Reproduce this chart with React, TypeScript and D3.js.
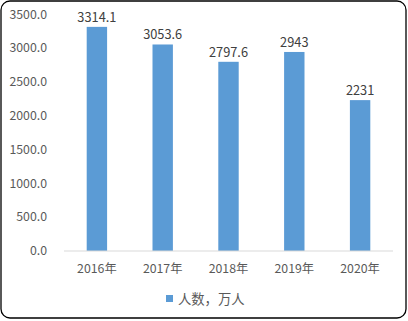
import React from "react";
import * as d3 from "d3";

const categories = ["2016年", "2017年", "2018年", "2019年", "2020年"];
const values = [3314.1, 3053.6, 2797.6, 2943, 2231];
const valueLabels = ["3314.1", "3053.6", "2797.6", "2943", "2231"];
const yTicks = [0, 500, 1000, 1500, 2000, 2500, 3000, 3500];
const seriesName = "人数，万人";

const W = 408;
const H = 321;
const font = "'Noto Sans CJK SC', 'Noto Sans', sans-serif";
const textColor = "#595959";
const barColor = "#5b9bd5";

export default function App() {
  const x = d3.scaleBand<string>().domain(categories).range([64, 393]).paddingInner(0.69).paddingOuter(0.345);
  const y = d3.scaleLinear().domain([0, 3500]).range([251, 14.3]);
  return (
    <svg width={W} height={H} style={{ position: "absolute", left: 0, top: 0, display: "block" }}>
      <rect x={1} y={1} width={405} height={317} rx={9} ry={9} fill="#fff" stroke="#000" strokeWidth={1.3} />
      {yTicks.map((t) => (
        <text key={t} x={47} y={y(t)} dy="0.35em" textAnchor="end" fontFamily={font} fontSize={12.3} fill={textColor}>
          {t.toFixed(1)}
        </text>
      ))}
      {categories.map((c, i) => (
        <g key={c}>
          <rect x={x(c)} y={y(values[i])} width={x.bandwidth()} height={y(0) - y(values[i])} fill={barColor} />
          <text x={(x(c) as number) + x.bandwidth() / 2} y={y(values[i]) - 5} textAnchor="middle" fontFamily={font} fontSize={12.8} fill="#404040">
            {valueLabels[i]}
          </text>
          <text x={(x(c) as number) + x.bandwidth() / 2} y={269} dy="0.35em" textAnchor="middle" fontFamily={font} fontSize={12.3} fill={textColor}>
            {c}
          </text>
        </g>
      ))}
      <line x1={64} x2={393} y1={y(0)} y2={y(0)} stroke="#d9d9d9" strokeWidth={1} />
      <rect x={166} y={295} width={7} height={7} fill={barColor} />
      <text x={178} y={299} dy="0.35em" fontFamily={font} fontSize={13.3} fill={textColor}>
        {seriesName}
      </text>
    </svg>
  );
}
